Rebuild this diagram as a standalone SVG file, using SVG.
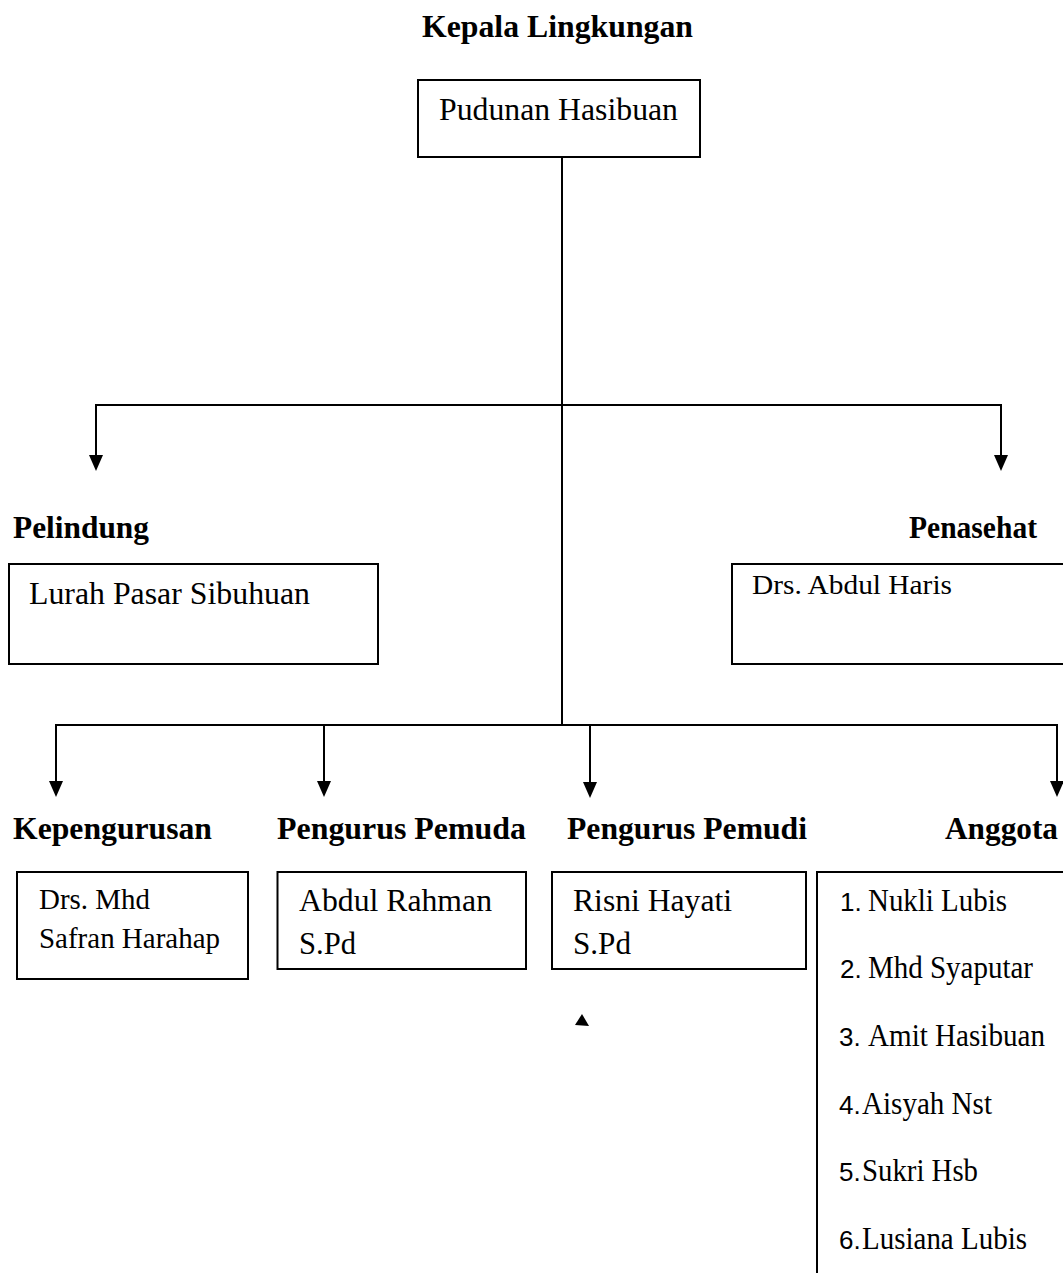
<svg xmlns="http://www.w3.org/2000/svg" width="1063" height="1273" viewBox="0 0 1063 1273">
<style>
.bx{fill:#fff;stroke:#000;stroke-width:2}
.ln{fill:none;stroke:#000;stroke-width:2}
.t{font-family:"Liberation Serif","Times New Roman",Times,serif;font-size:31px;fill:#000}
.b{font-family:"Liberation Serif","Times New Roman",Times,serif;font-size:32px;font-weight:bold;fill:#000}
.n{font-family:"Liberation Sans",Arial,sans-serif;font-size:26px;fill:#000}
</style>
<defs>
<marker id="ah" viewBox="0 0 16 14" refX="6" refY="7" markerWidth="16" markerHeight="14" markerUnits="userSpaceOnUse" orient="auto">
<path d="M0,0 L16,7 L0,14 z" fill="#000"/>
</marker>
</defs>
<rect width="1063" height="1273" fill="#fff"/>
<text class="b" x="422" y="37" textLength="271" lengthAdjust="spacingAndGlyphs">Kepala Lingkungan</text>
<g id="connectors">
<path class="ln" d="M562,157 V725"/>
<path class="ln" d="M562,405 H96 V461" marker-end="url(#ah)"/>
<path class="ln" d="M562,405 H1001 V461" marker-end="url(#ah)"/>
<path class="ln" d="M562,725 H56 V787" marker-end="url(#ah)"/>
<path class="ln" d="M562,725 H1057 V787" marker-end="url(#ah)"/>
<path class="ln" d="M324,725 V787" marker-end="url(#ah)"/>
<path class="ln" d="M590,725 V788" marker-end="url(#ah)"/>
</g>
<g id="kepala">
<rect class="bx" x="418" y="80" width="282" height="77"/>
<text class="t" x="439" y="120" textLength="239" lengthAdjust="spacingAndGlyphs">Pudunan Hasibuan</text>
</g>
<g id="pelindung">
<text class="b" x="13" y="538" textLength="136" lengthAdjust="spacingAndGlyphs">Pelindung</text>
<rect class="bx" x="9" y="564" width="369" height="100"/>
<text class="t" x="29" y="604" textLength="281" lengthAdjust="spacingAndGlyphs">Lurah Pasar Sibuhuan</text>
</g>
<g id="penasehat">
<text class="b" x="909" y="538" textLength="128" lengthAdjust="spacingAndGlyphs">Penasehat</text>
<rect class="bx" x="732" y="564" width="345" height="100"/>
<text class="t" x="752" y="594" style="font-size:27px" textLength="200" lengthAdjust="spacingAndGlyphs">Drs. Abdul Haris</text>
</g>
<g id="kepengurusan">
<text class="b" x="13" y="839" textLength="199" lengthAdjust="spacingAndGlyphs">Kepengurusan</text>
<rect class="bx" x="17" y="872" width="231" height="107"/>
<text class="t" x="39" y="909" style="font-size:29px" textLength="111" lengthAdjust="spacingAndGlyphs">Drs. Mhd</text>
<text class="t" x="39" y="948" style="font-size:29px" textLength="181" lengthAdjust="spacingAndGlyphs">Safran Harahap</text>
</g>
<g id="pemuda">
<text class="b" x="277" y="839" textLength="249" lengthAdjust="spacingAndGlyphs">Pengurus Pemuda</text>
<rect class="bx" x="277.5" y="872" width="248.5" height="97"/>
<text class="t" x="299" y="911" textLength="193" lengthAdjust="spacingAndGlyphs">Abdul Rahman</text>
<text class="t" x="299" y="954" textLength="57" lengthAdjust="spacingAndGlyphs">S.Pd</text>
</g>
<g id="pemudi">
<text class="b" x="567" y="839" textLength="240" lengthAdjust="spacingAndGlyphs">Pengurus Pemudi</text>
<rect class="bx" x="552" y="872" width="254" height="97"/>
<text class="t" x="573" y="911" textLength="159" lengthAdjust="spacingAndGlyphs">Risni Hayati</text>
<text class="t" x="573" y="954" textLength="58" lengthAdjust="spacingAndGlyphs">S.Pd</text>
</g>
<g id="anggota">
<text class="b" x="945" y="839" textLength="113" lengthAdjust="spacingAndGlyphs">Anggota</text>
<rect class="bx" x="817" y="872" width="260" height="420"/>
<text y="911"><tspan class="n" x="840">1.</tspan><tspan class="t" x="868" textLength="139" lengthAdjust="spacingAndGlyphs">Nukli Lubis</tspan></text>
<text y="978"><tspan class="n" x="840">2.</tspan><tspan class="t" x="868" textLength="165" lengthAdjust="spacingAndGlyphs">Mhd Syaputar</tspan></text>
<text y="1046"><tspan class="n" x="839">3.</tspan><tspan class="t" x="868" textLength="177" lengthAdjust="spacingAndGlyphs">Amit Hasibuan</tspan></text>
<text y="1114"><tspan class="n" x="839">4.</tspan><tspan class="t" x="862" textLength="130" lengthAdjust="spacingAndGlyphs">Aisyah Nst</tspan></text>
<text y="1181"><tspan class="n" x="839">5.</tspan><tspan class="t" x="862" textLength="116" lengthAdjust="spacingAndGlyphs">Sukri Hsb</tspan></text>
<text y="1249"><tspan class="n" x="839">6.</tspan><tspan class="t" x="862" textLength="165" lengthAdjust="spacingAndGlyphs">Lusiana Lubis</tspan></text>
</g>
<polygon points="582,1014 589,1026 575,1025" fill="#000"/>
</svg>
